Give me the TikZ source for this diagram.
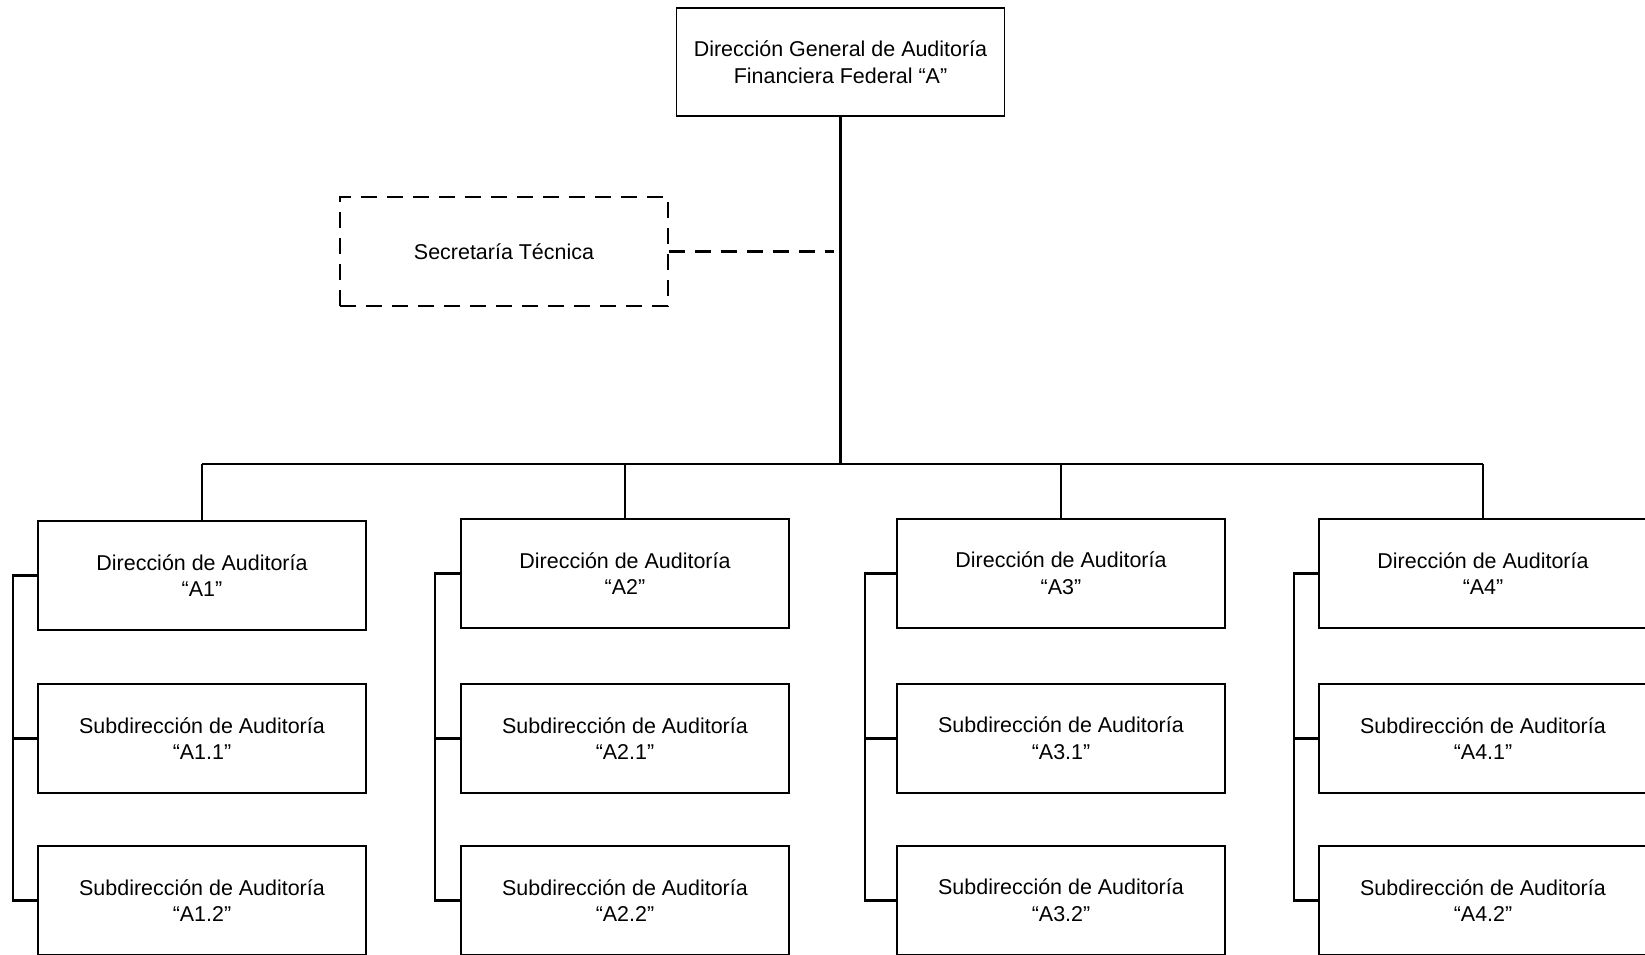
\documentclass[tikz,border=0pt]{standalone}
\usepackage{fontspec}
\setmainfont{Liberation Sans}
\begin{document}
\begin{tikzpicture}[x=0.01cm,y=-0.01cm,
  box/.style={draw, line width=0.45pt, minimum width=3.28cm, minimum height=1.09cm,
    inner sep=0pt, align=center, font=\fontsize{6.1}{7.6}\selectfont},
  dbox/.style={box, dash pattern=on 4.6pt off 2.8pt},
  link/.style={line width=0.7pt},
  dlink/.style={link, dash pattern=on 4.6pt off 2.8pt}]
\useasboundingbox (0,0) rectangle (1645,954);
\clip (0,0) rectangle (1645,954);

% head office and its staff unit
\node[box, minimum height=1.08cm] (dg) at (840.5,62) {Dirección General de Auditoría\\Financiera Federal “A”};
\node[dbox] (st) at (504,251.5) {Secretaría Técnica};
\coordinate (trunk) at (840.5,464);
\coordinate (stend) at (834,251.5);
\draw[link] (dg.south) -- (trunk);
\draw[dlink] (st.east) -- (stend);

% the four audit directions, each with two sub-directions
\foreach \i/\cx/\bx/\dy in {1/202/13/2, 2/625/435/0, 3/1061/865/0, 4/1483/1294/0}{
  \node[box] (d\i)  at (\cx,573.5+\dy) {Dirección de Auditoría\\“A\i”};
  \node[box] (sa\i) at (\cx,738.5)     {Subdirección de Auditoría\\“A\i.1”};
  \node[box] (sb\i) at (\cx,900.5)     {Subdirección de Auditoría\\“A\i.2”};
  \coordinate (bus\i) at (\cx,464);
  \coordinate (k\i) at (\bx,464);
  \draw[link] (bus\i) -- (d\i.north);
  \draw[link] (d\i.west) -- (d\i.west -| k\i) -- (sb\i.west -| k\i) -- (sb\i.west);
  \draw[link] (sa\i.west) -- (sa\i.west -| k\i);
}
\draw[link] (bus1) -- (bus4);
\end{tikzpicture}
\end{document}
